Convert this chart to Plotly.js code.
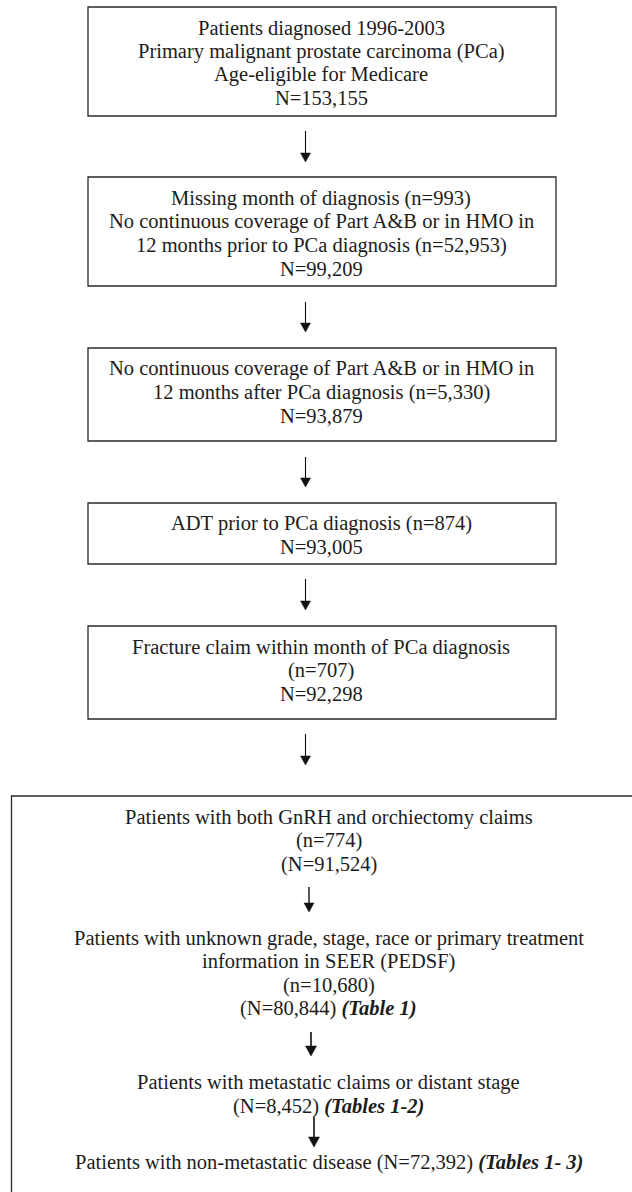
<!DOCTYPE html>
<html>
<head>
<meta charset="utf-8">
<script src="https://cdn.plot.ly/plotly-3.0.1.min.js"></script>
<style>html,body{margin:0;padding:0;background:#fff;}#chart{width:632px;height:1192px;}</style>
</head>
<body>
<div id="chart"></div>
<script>
// ---- data ----
const remainingN = [153155, 99209, 93879, 93005, 92298, 91524, 80844, 8452, 72392];
const excludedN = [993, 52953, 5330, 874, 707, 774, 10680];
const diagnosisYears = ["1996", "2003"];
const tableRefs = ["(Table 1)", "(Tables 1-2)", "(Tables 1- 3)"];

const fmt = v => v.toLocaleString('en-US');
const em = s => "<b><i>" + s + "</i></b>";

const outerBoxLines = [
  ["Patients diagnosed " + diagnosisYears[0] + "-" + diagnosisYears[1],
   "Primary malignant prostate carcinoma (PCa)",
   "Age-eligible for Medicare",
   "N=" + fmt(remainingN[0])],
  ["Missing month of diagnosis (n=" + fmt(excludedN[0]) + ")",
   "No continuous coverage of Part A&B or in HMO in",
   "12 months prior to PCa diagnosis (n=" + fmt(excludedN[1]) + ")",
   "N=" + fmt(remainingN[1])],
  ["No continuous coverage of Part A&B or in HMO in",
   "12 months after PCa diagnosis (n=" + fmt(excludedN[2]) + ")",
   "N=" + fmt(remainingN[2])],
  ["ADT prior to PCa diagnosis (n=" + fmt(excludedN[3]) + ")",
   "N=" + fmt(remainingN[3])],
  ["Fracture claim within month of PCa diagnosis",
   "(n=" + fmt(excludedN[4]) + ")",
   "N=" + fmt(remainingN[4])]
];
const innerLines = [
  "Patients with both GnRH and orchiectomy claims",
  "(n=" + fmt(excludedN[5]) + ")",
  "(N=" + fmt(remainingN[5]) + ")",
  "Patients with unknown grade, stage, race or primary treatment",
  "information in SEER (PEDSF)",
  "(n=" + fmt(excludedN[6]) + ")",
  "(N=" + fmt(remainingN[6]) + ") " + em(tableRefs[0]),
  "Patients with metastatic claims or distant stage",
  "(N=" + fmt(remainingN[7]) + ") " + em(tableRefs[1]),
  "Patients with non-metastatic disease (N=" + fmt(remainingN[8]) + ") " + em(tableRefs[2])
];

// ---- layout geometry (pixels) ----
const W = 632, H = 1192;
const boxX = [88, 556];
const boxY = [[7, 116], [177, 286], [348, 441], [503, 564], [626, 719]];
const boxLineY = [[28, 51, 74.5, 98], [198, 221.5, 245, 268.5], [368.5, 392, 415.5], [523.5, 546.5], [647.5, 670.5, 694]];
const textCx = 321;
const bigBox = {x0: 11.5, y0: 796, x1: 700, y1: 1260};
const innerCx = 328.5;
const innerLineY = [817, 840.5, 864, 938, 961.5, 985, 1008.5, 1082, 1106, 1162];
const arrows = [
  {x: 305.5, y0: 131, y1: 162, w: 1.1, hh: 9, hw: 5},
  {x: 305.5, y0: 302, y1: 332, w: 1.1, hh: 9, hw: 5},
  {x: 305.5, y0: 457, y1: 487, w: 1.1, hh: 9, hw: 5},
  {x: 305.5, y0: 579, y1: 610, w: 1.1, hh: 9, hw: 5},
  {x: 305.5, y0: 734, y1: 765, w: 1.1, hh: 9, hw: 5},
  {x: 309, y0: 887, y1: 912, w: 1.4, hh: 9, hw: 5},
  {x: 311, y0: 1032, y1: 1056, w: 1.6, hh: 10, hw: 5.5},
  {x: 314, y0: 1117, y1: 1147, w: 1.6, hh: 10, hw: 5.5}
];

const font = {family: "Liberation Serif, Times New Roman, serif", size: 20.5, color: "#1c1c1c"};
const lineCol = "#2a2a2a";

const shapes = [];
const annotations = [];

boxY.forEach((yy, i) => {
  shapes.push({type: "rect", xref: "x", yref: "y", x0: boxX[0], x1: boxX[1], y0: yy[0], y1: yy[1],
    line: {color: lineCol, width: 1.3}, fillcolor: "rgba(0,0,0,0)"});
  outerBoxLines[i].forEach((t, j) => {
    annotations.push({xref: "x", yref: "y", x: textCx, y: boxLineY[i][j], text: t, showarrow: false,
      xanchor: "center", yanchor: "middle", font: font});
  });
});

shapes.push({type: "rect", xref: "x", yref: "y", x0: bigBox.x0, x1: bigBox.x1, y0: bigBox.y0, y1: bigBox.y1,
  line: {color: lineCol, width: 1.3}, fillcolor: "rgba(0,0,0,0)"});
innerLines.forEach((t, j) => {
  annotations.push({xref: "x", yref: "y", x: innerCx, y: innerLineY[j], text: t, showarrow: false,
    xanchor: "center", yanchor: "middle", font: font});
});

arrows.forEach(a => {
  shapes.push({type: "line", xref: "x", yref: "y", x0: a.x, x1: a.x, y0: a.y0, y1: a.y1 - a.hh + 1,
    line: {color: "#111", width: a.w}});
  shapes.push({type: "path", xref: "x", yref: "y",
    path: "M" + (a.x - a.hw) + "," + (a.y1 - a.hh) + " L" + (a.x + a.hw) + "," + (a.y1 - a.hh) + " L" + a.x + "," + a.y1 + " Z",
    fillcolor: "#111", line: {color: "#111", width: 0.5}});
});

const layout = {
  width: W, height: H,
  margin: {l: 0, r: 0, t: 0, b: 0, pad: 0},
  paper_bgcolor: "#fff", plot_bgcolor: "#fff",
  showlegend: false,
  xaxis: {range: [0, W], visible: false, fixedrange: true},
  yaxis: {range: [H, 0], visible: false, fixedrange: true},
  shapes: shapes,
  annotations: annotations
};

Plotly.newPlot("chart", [{x: [], y: [], type: "scatter", mode: "markers", hoverinfo: "skip"}], layout,
  {staticPlot: true, displayModeBar: false});
</script>
</body>
</html>
